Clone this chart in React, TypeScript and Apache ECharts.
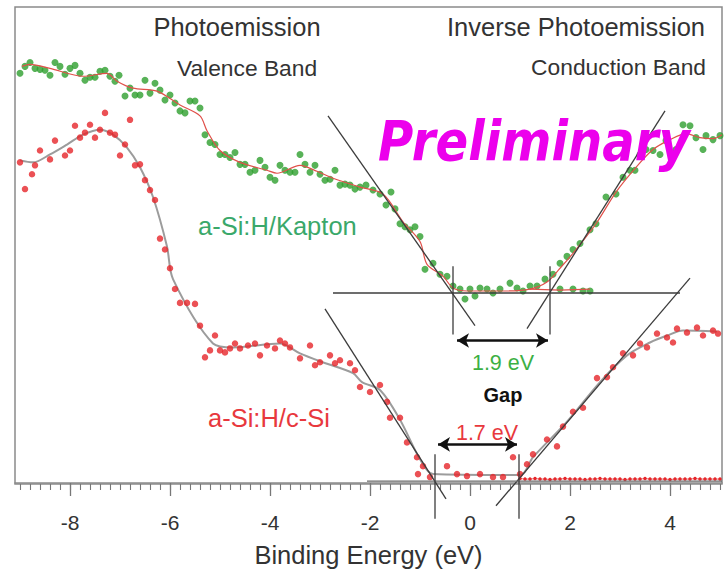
import React, { useEffect, useRef } from "react";
import * as echarts from "echarts";

// x-axis major tick labels (binding energy, eV)
const majorTicks = [-8, -6, -4, -2, 0, 2, 4];

// a-Si:H/Kapton measured points (green)
const kaptonEnergy = [-9.0,-8.9,-8.8,-8.7,-8.6,-8.5,-8.4,-8.3,-8.2,-8.1,-8.0,-7.9,-7.8,-7.7,-7.6,-7.5,-7.4,-7.3,-7.2,-7.1,-7.02,-6.9,-6.8,-6.7,-6.6,-6.5,-6.4,-6.3,-6.2,-6.1,-6.0,-5.9,-5.8,-5.7,-5.6,-5.5,-5.4,-5.3,-5.2,-5.1,-5.0,-4.9,-4.8,-4.7,-4.6,-4.5,-4.4,-4.3,-4.2,-4.1,-4.0,-3.9,-3.8,-3.7,-3.6,-3.5,-3.4,-3.3,-3.2,-3.1,-3.0,-2.9,-2.8,-2.7,-2.6,-2.5,-2.4,-2.3,-2.2,-2.08,-1.94,-1.8,-1.68,-1.58,-1.5,-1.4,-1.3,-1.2,-1.1,-1.0,-0.9,-0.74,-0.6,-0.46,-0.34,-0.2,-0.1,0.0,0.1,0.2,0.34,0.46,0.6,0.8,0.94,1.06,1.2,1.34,1.5,1.66,1.8,1.94,2.06,1.8,2.06,2.26,2.4,2.2,2.4,2.52,2.72,2.92,3.06,3.2,3.3,3.4,3.52,3.66,3.8,3.92,4.12,4.26,4.4,4.52,4.66,4.72,4.86,5.0];
const kaptonIntensity = [82.8,84.2,85.0,83.8,83.6,83.4,82.4,85.0,84.2,82.6,83.8,84.4,82.8,81.4,82.0,82.0,83.2,83.4,82.2,81.2,82.4,78.2,79.8,78.4,78.4,81.4,78.8,80.8,79.4,77.4,78.4,76.8,75.2,74.8,77.2,77.2,75.8,70.4,68.8,68.4,66.4,66.4,65.8,66.8,64.4,64.4,62.8,63.2,65.2,63.8,61.8,61.2,64.2,63.2,62.8,62.8,66.4,64.4,62.8,64.2,62.4,61.2,61.4,63.2,60.2,60.4,60.2,59.4,59.8,60.2,59.2,58.4,56.2,58.8,55.4,52.4,51.8,51.2,51.8,49.8,43.2,44.4,42.2,41.8,39.8,39.2,37.2,39.2,37.8,39.4,39.2,38.4,39.2,40.4,39.4,38.8,39.8,39.8,41.2,42.2,44.4,45.8,47.2,39.2,39.2,38.8,38.8,48.4,51.2,52.4,57.8,58.4,61.8,63.2,63.2,66.4,67.4,67.2,66.4,69.2,67.4,72.4,72.2,69.8,67.4,70.2,69.4,70.2];

// a-Si:H/Kapton fit curve (thin red)
const kaptonFitEnergy = [-8.96,-8.8,-8.4,-7.74,-7.26,-7.06,-6.74,-6.26,-5.8,-5.4,-5.26,-5.0,-4.6,-4.06,-3.86,-3.4,-3.06,-2.74,-2.2,-1.74,-1.34,-1.0,-0.86,-0.54,-0.34,-0.06,0.6,1.2,1.54,1.8,2.06,2.2,2.52,2.92,3.32,3.66,4.0,4.32,4.6,4.86,5.04];
const kaptonFitIntensity = [84.2,84.6,83.8,82.2,82.8,81.2,79.8,79.2,76.4,74.2,71.2,67.2,64.8,63.2,62.6,64.2,63.0,61.6,59.8,58.4,52.8,48.8,44.2,41.8,39.4,38.8,38.8,39.2,40.6,43.4,46.4,48.2,52.4,58.8,63.8,67.4,69.4,70.6,69.8,69.6,70.4];
const kaptonFlatFitEnergy = [1.2, 1.8, 2.4];
const kaptonFlatFitIntensity = [39.2, 39.0, 39.2];

// a-Si:H/c-Si measured points (red)
const siEnergy = [-9.0,-8.9,-8.76,-8.7,-8.6,-8.4,-8.3,-8.1,-8.0,-7.9,-7.8,-7.7,-7.6,-7.5,-7.4,-7.3,-7.2,-7.1,-7.0,-6.9,-6.8,-6.7,-6.6,-6.5,-6.4,-6.3,-6.2,-6.1,-6.0,-5.9,-5.8,-5.66,-5.5,-5.4,-5.3,-5.2,-5.1,-5.0,-4.9,-4.8,-4.7,-4.6,-4.44,-4.3,-4.2,-4.06,-3.9,-3.8,-3.7,-3.6,-3.4,-3.2,-3.1,-3.0,-2.8,-2.7,-2.6,-2.4,-2.3,-2.2,-2.0,-1.8,-1.66,-1.6,-1.4,-1.26,-1.06,-0.94,-1.04,-0.8,-0.46,-0.26,-0.06,0.2,0.46,0.66,0.86,1.0,1.14,1.26,1.54,1.74,1.86,2.06,2.26,2.54,2.74,2.86,3.06,3.26,3.4,3.54,3.74,3.94,4.06,4.14,4.34,4.54,4.66,4.86,4.96];
const siIntensity = [64.8,59.4,62.4,64.2,67.2,65.4,69.2,66.2,67.2,72.2,69.8,70.8,72.4,69.8,71.4,74.8,70.8,70.4,66.2,68.4,73.4,64.2,64.4,61.2,59.2,57.2,49.4,47.2,43.4,39.2,36.4,36.4,36.2,31.8,25.4,26.8,29.8,26.8,26.4,27.2,28.2,27.2,27.8,28.2,25.8,27.8,27.2,28.8,28.2,27.4,25.2,27.8,23.8,24.4,25.8,24.2,24.8,24.2,22.8,19.4,18.4,19.8,16.4,13.2,13.2,8.2,5.2,3.4,1.8,1.2,3.4,1.8,1.4,1.8,1.2,1.2,5.2,1.8,3.8,5.8,8.8,7.4,11.4,14.4,15.2,21.2,21.4,23.4,26.2,25.8,28.2,27.4,30.2,29.4,28.4,31.2,30.4,31.4,29.8,30.8,30.2];

// a-Si:H/c-Si fit curve (grey)
const siFitEnergy = [-9.0,-8.74,-8.4,-8.06,-7.74,-7.4,-7.14,-6.86,-6.6,-6.34,-6.06,-5.94,-5.14,-4.74,-3.8,-3.4,-3.0,-2.34,-2.16,-1.8,-1.4,-1.0,-0.74,1.0,1.26,1.94,2.6,3.14,3.6,3.94,4.26,4.94];
const siFitIntensity = [65.2,64.8,66.4,68.4,70.4,71.4,70.4,67.8,63.8,57.8,47.8,41.2,28.2,27.4,28.2,26.2,24.6,22.2,20.4,18.8,12.8,4.8,1.8,1.6,5.2,12.4,20.4,25.8,28.4,29.8,30.8,30.6];

// a-Si:H/c-Si flat (valence) data above 1 eV (small red dots)
const siFlatEnergy = [1.0,1.1,1.2,1.3,1.4,1.5,1.6,1.7,1.8,1.9,2.0,2.1,2.2,2.3,2.4,2.5,2.6,2.7,2.8,2.9,3.0,3.1,3.2,3.3,3.4,3.5,3.6,3.7,3.8,3.9,4.0,4.1,4.2,4.3,4.4,4.5,4.6,4.7,4.8,4.9,5.0];
const siFlatIntensity = [0.9,0.8,0.8,0.9,0.8,0.8,0.7,0.8,0.8,0.9,0.8,0.8,0.8,0.7,0.8,0.8,0.9,0.8,0.8,0.8,0.8,0.7,0.8,0.8,0.8,0.9,0.8,0.8,0.8,0.8,0.7,0.8,0.8,0.8,0.8,0.9,0.8,0.8,0.8,0.8,0.8];

// construction lines [energy pair], [intensity pair]
const kaptonLeftTangentE = [-2.84, 0.1];
const kaptonLeftTangentI = [74.2, 31.8];
const kaptonRightTangentE = [1.14, 3.9];
const kaptonRightTangentI = [31.2, 75.2];
const kaptonBaselineE = [-2.74, 4.2];
const kaptonBaselineI = [38.4, 38.4];
const kaptonGapEdgeE = [-0.34, 1.6];
const kaptonGapEdgeI = [43.8, 30.0];
const kaptonArrowE = [-0.26, 1.56];
const kaptonArrowI = 28.8;

const siLeftTangentE = [-2.9, -0.48];
const siLeftTangentI = [35.2, -3.2];
const siRightTangentE = [0.52, 4.4];
const siRightTangentI = [-4.6, 41.4];
const siBaselineE = [-2.06, 5.04];
const siBaselineI = [0.4, 0.4];
const siGapEdgeE = [-0.7, 0.98];
const siGapEdgeI = [5.8, -7.2];
const siArrowE = [-0.64, 0.94];
const siArrowI = 7.8;

const minorTicks = Array.from({ length: 71 }, (_, i) => Math.round((-9 + i * 0.2) * 10) / 10);

const FONT = "Liberation Sans, Arial, Helvetica, sans-serif";

function pairs(xs: number[], ys: number[]) {
  return xs.map((x, i) => [x, ys[i]]);
}

function guide(xs: number[], ys: number[], extra: any = {}) {
  return {
    type: "line",
    data: pairs(xs, ys),
    showSymbol: false,
    symbol: "none",
    clip: false,
    silent: true,
    z: 4,
    lineStyle: { color: "#3c3c3c", width: 1.3 },
    ...extra,
  };
}

export default function App() {
  const ref = useRef<HTMLDivElement>(null);
  useEffect(() => {
    if (!ref.current) return;
    const chart = echarts.init(ref.current, null, { renderer: "svg" });
    const option: any = {
      animation: false,
      backgroundColor: "#ffffff",
      grid: {
        left: 15,
        right: 4,
        top: 7,
        bottom: 85,
        show: true,
        borderColor: "#8a8a8a",
        borderWidth: 1.5,
        backgroundColor: "transparent",
      },
      xAxis: [
        {
          type: "value",
          min: -9.1,
          max: 5.04,
          position: "bottom",
          name: "Binding Energy (eV)",
          nameLocation: "middle",
          nameGap: 58,
          nameTextStyle: { fontSize: 25.5, color: "#333", fontFamily: FONT },
          splitLine: { show: false },
          axisLine: { show: true, lineStyle: { color: "#8a8a8a", width: 1.5 } },
          axisTick: { show: true, customValues: majorTicks, length: 13, lineStyle: { color: "#777", width: 1.3 } },
          axisLabel: {
            customValues: majorTicks,
            fontSize: 21,
            color: "#333",
            fontFamily: FONT,
            margin: 28,
            formatter: (v: number) => String(v),
          },
        },
        {
          type: "value",
          min: -9.1,
          max: 5.04,
          position: "bottom",
          splitLine: { show: false },
          axisLine: { show: false },
          axisTick: { show: true, customValues: minorTicks, length: 6, lineStyle: { color: "#777", width: 1.1 } },
          axisLabel: { show: false },
        },
      ],
      yAxis: {
        type: "value",
        min: -0.2,
        max: 96.2,
        show: false,
      },
      series: [
        {
          type: "scatter",
          name: "a-Si:H/Kapton",
          data: pairs(kaptonEnergy, kaptonIntensity),
          symbolSize: 7,
          itemStyle: { color: "#2e9f2e" },
          z: 2,
        },
        {
          type: "line",
          data: pairs(kaptonFitEnergy, kaptonFitIntensity),
          smooth: 0.3,
          showSymbol: false,
          symbol: "none",
          lineStyle: { color: "#e0504a", width: 1.2 },
          z: 3,
        },
        {
          type: "line",
          data: pairs(kaptonFlatFitEnergy, kaptonFlatFitIntensity),
          showSymbol: false,
          symbol: "none",
          lineStyle: { color: "#e0504a", width: 1.2 },
          z: 3,
        },
        {
          type: "line",
          data: pairs(siFitEnergy, siFitIntensity),
          smooth: 0.3,
          showSymbol: false,
          symbol: "none",
          lineStyle: { color: "#9c9c9c", width: 2 },
          z: 1,
        },
        {
          type: "scatter",
          name: "a-Si:H/c-Si",
          data: pairs(siEnergy, siIntensity),
          symbolSize: 6.5,
          itemStyle: { color: "#e6262a" },
          z: 2,
        },
        {
          type: "line",
          data: pairs(siFlatEnergy, siFlatIntensity),
          showSymbol: true,
          symbol: "circle",
          symbolSize: 3.5,
          itemStyle: { color: "#e6262a" },
          lineStyle: { color: "#e87070", width: 1 },
          z: 2,
        },
        guide(kaptonLeftTangentE, kaptonLeftTangentI),
        guide(kaptonRightTangentE, kaptonRightTangentI),
        guide(kaptonBaselineE, kaptonBaselineI, {
          markLine: {
            silent: true,
            symbol: ["arrow", "arrow"],
            symbolSize: [11, 12],
            label: { show: false },
            lineStyle: { color: "#111", width: 2.5, type: "solid" },
            data: [
              [{ coord: [kaptonArrowE[0], kaptonArrowI] }, { coord: [kaptonArrowE[1], kaptonArrowI] }],
              [{ coord: [siArrowE[0], siArrowI] }, { coord: [siArrowE[1], siArrowI] }],
            ],
          },
        }),
        guide([kaptonGapEdgeE[0], kaptonGapEdgeE[0]], kaptonGapEdgeI),
        guide([kaptonGapEdgeE[1], kaptonGapEdgeE[1]], kaptonGapEdgeI),
        guide(siLeftTangentE, siLeftTangentI),
        guide(siRightTangentE, siRightTangentI),
        guide(siBaselineE, siBaselineI, { lineStyle: { color: "#6a6a6a", width: 1.3 } }),
        guide([siGapEdgeE[0], siGapEdgeE[0]], siGapEdgeI),
        guide([siGapEdgeE[1], siGapEdgeE[1]], siGapEdgeI),
      ],
      graphic: [
        { type: "text", x: 237, y: 27, style: { text: "Photoemission", fontSize: 25.5, fontFamily: FONT, fill: "#333", align: "center", verticalAlign: "middle" } },
        { type: "text", x: 247, y: 68, style: { text: "Valence Band", fontSize: 22.8, fontFamily: FONT, fill: "#333", align: "center", verticalAlign: "middle" } },
        { type: "text", x: 705, y: 27, style: { text: "Inverse Photoemission", fontSize: 25.5, fontFamily: FONT, fill: "#333", align: "right", verticalAlign: "middle" } },
        { type: "text", x: 706, y: 67, style: { text: "Conduction Band", fontSize: 22.8, fontFamily: FONT, fill: "#333", align: "right", verticalAlign: "middle" } },
        { type: "text", x: 198, y: 226, style: { text: "a-Si:H/Kapton", fontSize: 25.5, fontFamily: FONT, fill: "#3aa86a", align: "left", verticalAlign: "middle" } },
        { type: "text", x: 208, y: 418, style: { text: "a-Si:H/c-Si", fontSize: 25.5, fontFamily: FONT, fill: "#e8383d", align: "left", verticalAlign: "middle" } },
        { type: "text", x: 503, y: 363, style: { text: "1.9 eV", fontSize: 21.5, fontFamily: FONT, fill: "#3cb043", align: "center", verticalAlign: "middle" } },
        { type: "text", x: 503, y: 395, style: { text: "Gap", fontSize: 20, fontWeight: "bold", fontFamily: FONT, fill: "#111", align: "center", verticalAlign: "middle" } },
        { type: "text", x: 487, y: 433, style: { text: "1.7 eV", fontSize: 21.5, fontFamily: FONT, fill: "#e8383d", align: "center", verticalAlign: "middle" } },
        {
          type: "text",
          x: 378,
          y: 141,
          scaleX: 0.86,
          z: 100,
          style: {
            text: "Preliminary",
            fontSize: 56,
            fontWeight: "bold",
            fontStyle: "italic",
            fontFamily: "DejaVu Sans, sans-serif",
            fill: "#ec00ec",
            align: "left",
            verticalAlign: "middle",
          },
        },
      ],
    };
    chart.setOption(option);
    return () => chart.dispose();
  }, []);
  return (
    <div
      ref={ref}
      style={{ position: "fixed", left: 0, top: 0, width: 726, height: 573, background: "#fff" }}
    />
  );
}
